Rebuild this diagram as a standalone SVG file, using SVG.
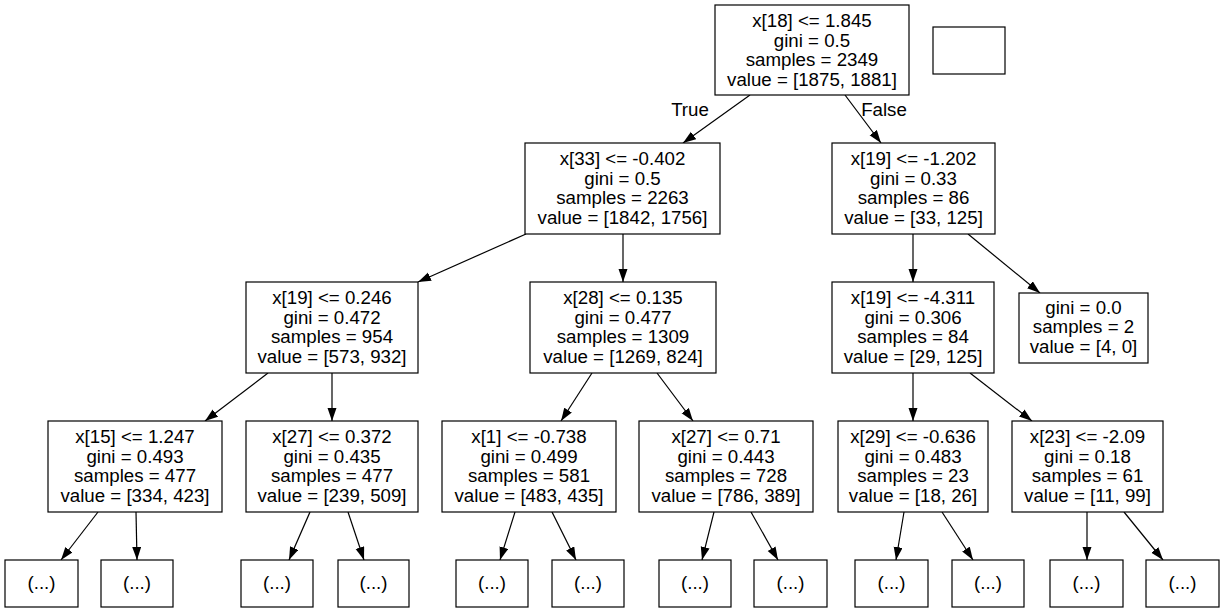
<svg xmlns="http://www.w3.org/2000/svg" width="1224" height="613" viewBox="0 0 1224 613">
<style>
rect{fill:#fff;stroke:#000;stroke-width:1.2}
text{font-family:"Liberation Sans",Arial,Helvetica,sans-serif;font-size:18.7px;fill:#000;text-anchor:middle}
.e line{stroke:#000;stroke-width:1.2;marker-end:url(#ah)}
</style>
<defs>
<marker id="ah" markerUnits="userSpaceOnUse" markerWidth="14" markerHeight="10" refX="13" refY="4.5" orient="auto" viewBox="0 0 14 10">
<path d="M0,0 L13,4.5 L0,9 z" fill="#000"/>
</marker>
</defs>
<rect x="0" y="0" width="1224" height="613" style="stroke:none"/>
<g id="connectors" class="e">
<line x1="750" y1="95" x2="683" y2="143"/>
<line x1="845" y1="95" x2="881" y2="143"/>
<line x1="526" y1="234" x2="418" y2="282"/>
<line x1="623" y1="234" x2="623" y2="282"/>
<line x1="913" y1="234" x2="913" y2="282"/>
<line x1="968" y1="234" x2="1040" y2="293"/>
<line x1="268" y1="373" x2="205" y2="421"/>
<line x1="332" y1="373" x2="332" y2="421"/>
<line x1="592" y1="373" x2="561" y2="421"/>
<line x1="657" y1="373" x2="693" y2="421"/>
<line x1="913" y1="373" x2="913" y2="421"/>
<line x1="970" y1="373" x2="1032" y2="421"/>
<line x1="98" y1="512" x2="61" y2="560"/>
<line x1="136" y1="512" x2="137" y2="560"/>
<line x1="310" y1="512" x2="289" y2="560"/>
<line x1="348" y1="512" x2="364" y2="560"/>
<line x1="515" y1="512" x2="500" y2="560"/>
<line x1="552" y1="512" x2="576" y2="560"/>
<line x1="714" y1="512" x2="702" y2="560"/>
<line x1="751" y1="512" x2="778" y2="560"/>
<line x1="904" y1="512" x2="896" y2="560"/>
<line x1="942" y1="512" x2="973" y2="560"/>
<line x1="1087" y1="512" x2="1087" y2="560"/>
<line x1="1124" y1="512" x2="1163" y2="560"/>
<text x="690" y="116">True</text>
<text x="884" y="116">False</text>
</g>
<g id="n0"><rect x="715" y="5" width="194" height="90"/>
<text x="812" y="27">x[18] &lt;= 1.845</text><text x="812" y="46.5">gini = 0.5</text><text x="812" y="66">samples = 2349</text><text x="812" y="85.5">value = [1875, 1881]</text></g>
<g id="legend"><rect x="933" y="27" width="72" height="47"/></g>
<g id="n1"><rect x="525" y="143" width="195" height="91"/>
<text x="622.5" y="165">x[33] &lt;= -0.402</text><text x="622.5" y="184.5">gini = 0.5</text><text x="622.5" y="204">samples = 2263</text><text x="622.5" y="223.5">value = [1842, 1756]</text></g>
<g id="n2"><rect x="832" y="143" width="163" height="91"/>
<text x="913.5" y="165">x[19] &lt;= -1.202</text><text x="913.5" y="184.5">gini = 0.33</text><text x="913.5" y="204">samples = 86</text><text x="913.5" y="223.5">value = [33, 125]</text></g>
<g id="n3"><rect x="246" y="282" width="172" height="91"/>
<text x="332" y="304">x[19] &lt;= 0.246</text><text x="332" y="323.5">gini = 0.472</text><text x="332" y="343">samples = 954</text><text x="332" y="362.5">value = [573, 932]</text></g>
<g id="n4"><rect x="530" y="282" width="186" height="91"/>
<text x="623" y="304">x[28] &lt;= 0.135</text><text x="623" y="323.5">gini = 0.477</text><text x="623" y="343">samples = 1309</text><text x="623" y="362.5">value = [1269, 824]</text></g>
<g id="n5"><rect x="832" y="282" width="162" height="91"/>
<text x="913" y="304">x[19] &lt;= -4.311</text><text x="913" y="323.5">gini = 0.306</text><text x="913" y="343">samples = 84</text><text x="913" y="362.5">value = [29, 125]</text></g>
<g id="n6"><rect x="1019" y="293" width="129" height="70"/>
<text x="1083.5" y="313.5">gini = 0.0</text><text x="1083.5" y="333">samples = 2</text><text x="1083.5" y="352.5">value = [4, 0]</text></g>
<g id="n7"><rect x="48" y="421" width="174" height="91"/>
<text x="135" y="443">x[15] &lt;= 1.247</text><text x="135" y="462.5">gini = 0.493</text><text x="135" y="482">samples = 477</text><text x="135" y="501.5">value = [334, 423]</text></g>
<g id="n8"><rect x="246" y="421" width="172" height="91"/>
<text x="332" y="443">x[27] &lt;= 0.372</text><text x="332" y="462.5">gini = 0.435</text><text x="332" y="482">samples = 477</text><text x="332" y="501.5">value = [239, 509]</text></g>
<g id="n9"><rect x="442" y="421" width="174" height="91"/>
<text x="529" y="443">x[1] &lt;= -0.738</text><text x="529" y="462.5">gini = 0.499</text><text x="529" y="482">samples = 581</text><text x="529" y="501.5">value = [483, 435]</text></g>
<g id="n10"><rect x="639" y="421" width="174" height="91"/>
<text x="726" y="443">x[27] &lt;= 0.71</text><text x="726" y="462.5">gini = 0.443</text><text x="726" y="482">samples = 728</text><text x="726" y="501.5">value = [786, 389]</text></g>
<g id="n11"><rect x="838" y="421" width="150" height="91"/>
<text x="913" y="443">x[29] &lt;= -0.636</text><text x="913" y="462.5">gini = 0.483</text><text x="913" y="482">samples = 23</text><text x="913" y="501.5">value = [18, 26]</text></g>
<g id="n12"><rect x="1012" y="421" width="151" height="91"/>
<text x="1087.5" y="443">x[23] &lt;= -2.09</text><text x="1087.5" y="462.5">gini = 0.18</text><text x="1087.5" y="482">samples = 61</text><text x="1087.5" y="501.5">value = [11, 99]</text></g>
<g id="l1"><rect x="5" y="560" width="73" height="47"/><text x="41.5" y="589">(...)</text></g>
<g id="l2"><rect x="101" y="560" width="72" height="47"/><text x="137" y="589">(...)</text></g>
<g id="l3"><rect x="241" y="560" width="72" height="47"/><text x="277" y="589">(...)</text></g>
<g id="l4"><rect x="338" y="560" width="71" height="47"/><text x="373.5" y="589">(...)</text></g>
<g id="l5"><rect x="456" y="560" width="72" height="47"/><text x="492" y="589">(...)</text></g>
<g id="l6"><rect x="552" y="560" width="72" height="47"/><text x="588" y="589">(...)</text></g>
<g id="l7"><rect x="659" y="560" width="72" height="47"/><text x="695" y="589">(...)</text></g>
<g id="l8"><rect x="754" y="560" width="73" height="47"/><text x="790.5" y="589">(...)</text></g>
<g id="l9"><rect x="855" y="560" width="73" height="47"/><text x="891.5" y="589">(...)</text></g>
<g id="l10"><rect x="952" y="560" width="72" height="47"/><text x="988" y="589">(...)</text></g>
<g id="l11"><rect x="1050" y="560" width="73" height="47"/><text x="1086.5" y="589">(...)</text></g>
<g id="l12"><rect x="1146" y="560" width="73" height="47"/><text x="1182.5" y="589">(...)</text></g>
</svg>
